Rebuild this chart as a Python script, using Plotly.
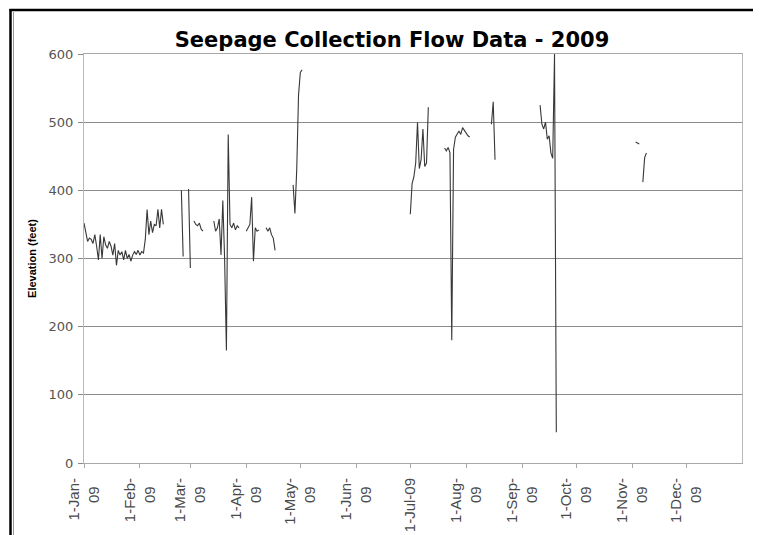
import plotly.graph_objects as go
import pandas as pd

# ---- data (daily elevations, each segment = start date + consecutive daily values) ----
seg_jan_start = "2009-01-01"
seg_jan_values = [352, 335, 325, 330, 328, 322, 335, 318, 298, 335,
                  300, 332, 320, 315, 325, 318, 305, 322, 290, 312,
                  305, 310, 298, 312, 300, 306, 296, 305, 310, 306,
                  312, 305, 310, 308, 328, 372, 335, 355, 338, 350,
                  348, 372, 345, 372, 350]
seg_feb_a_start = "2009-02-24"
seg_feb_a_values = [400, 303]
seg_feb_b_start = "2009-02-28"
seg_feb_b_values = [402, 286]
seg_mar_a_start = "2009-03-03"
seg_mar_a_values = [355, 350, 348, 352, 343, 340]
seg_mar_b_start = "2009-03-14"
seg_mar_b_values = [355, 340, 345, 358, 305, 385, 300, 165, 482, 350, 345, 352, 342, 348, 345]
seg_apr_a_start = "2009-04-01"
seg_apr_a_values = [340, 345, 350, 390, 296, 345, 340, 342]
seg_apr_b_start = "2009-04-12"
seg_apr_b_values = [345, 340, 345, 335, 330, 312]
seg_apr_c_start = "2009-04-27"
seg_apr_c_values = [408, 366, 430, 540, 573, 577]
seg_jul_a_start = "2009-07-01"
seg_jul_a_values = [365, 410, 420, 440, 500, 432, 445, 490, 435, 440, 522]
seg_jul_b_start = "2009-07-20"
seg_jul_b_values = [462, 458, 463, 455, 180, 460, 478, 483, 487, 482, 492, 488, 484, 480, 478]
seg_aug_start = "2009-08-15"
seg_aug_values = [497, 530, 445]
seg_sep_start = "2009-09-11"
seg_sep_values = [525, 497, 490, 500, 475, 480, 455, 447, 600, 45]
seg_nov_a_start = "2009-11-03"
seg_nov_a_values = [471, 469, 468]
seg_nov_b_start = "2009-11-07"
seg_nov_b_values = [412, 448, 455]

NB2 = "\u00a0\u00a0"
month_starts = ["2009-01-01", "2009-02-01", "2009-03-01", "2009-04-01", "2009-05-01", "2009-06-01",
                "2009-07-01", "2009-08-01", "2009-09-01", "2009-10-01", "2009-11-01", "2009-12-01"]
month_labels = ["1-Jan-<br>09" + NB2, "1-Feb-<br>09" + NB2, "1-Mar-<br>09" + NB2,
                "1-Apr-<br>09" + NB2, "1-May-<br>09" + NB2, "1-Jun-<br>09" + NB2,
                "1-Jul-09", "1-Aug-<br>09" + NB2, "1-Sep-<br>09" + NB2,
                "1-Oct-<br>09" + NB2, "1-Nov-<br>09" + NB2, "1-Dec-<br>09" + NB2]
y_ticks = [0, 100, 200, 300, 400, 500, 600]

segments = [
    (seg_jan_start, seg_jan_values), (seg_feb_a_start, seg_feb_a_values),
    (seg_feb_b_start, seg_feb_b_values), (seg_mar_a_start, seg_mar_a_values),
    (seg_mar_b_start, seg_mar_b_values), (seg_apr_a_start, seg_apr_a_values),
    (seg_apr_b_start, seg_apr_b_values), (seg_apr_c_start, seg_apr_c_values),
    (seg_jul_a_start, seg_jul_a_values), (seg_jul_b_start, seg_jul_b_values),
    (seg_aug_start, seg_aug_values), (seg_sep_start, seg_sep_values),
    (seg_nov_a_start, seg_nov_a_values), (seg_nov_b_start, seg_nov_b_values),
]

xs, ys = [], []
for start, vals in segments:
    days = pd.date_range(start, periods=len(vals), freq="D")
    xs += [d.strftime("%Y-%m-%d") for d in days]
    ys += list(vals)
    xs.append(None)
    ys.append(None)

fig = go.Figure()
fig.add_trace(go.Scatter(x=xs, y=ys, mode="lines", connectgaps=False,
                         line=dict(color="#383838", width=1.1), hoverinfo="skip"))

# the page body adds an 8px offset; figure coordinates = page coordinates - 8
OFF = 8
W, H = 761 - OFF, 535 - OFF
L, R, T, B = 84 - OFF, 19, 54 - OFF, 72
pw, ph = W - L - R, H - T - B


def px(xp):
    return (xp - OFF - L) / pw


def py(yp):
    return (H - B - (yp - OFF)) / ph


shapes = [
    # outer frame (black top and left edges of the embedded chart)
    dict(type="line", xref="paper", yref="paper", x0=px(9.5), x1=px(761), y0=py(10), y1=py(10),
         line=dict(color="black", width=2.5), layer="above"),
    dict(type="line", xref="paper", yref="paper", x0=px(10.5), x1=px(10.5), y0=py(9), y1=py(535),
         line=dict(color="black", width=2.5), layer="above"),
    dict(type="line", xref="paper", yref="paper", x0=px(13.5), x1=px(13.5), y0=py(12), y1=py(535),
         line=dict(color="#9a9a9a", width=1), layer="above"),
]

fig.update_layout(
    width=W, height=H,
    margin=dict(l=L, r=R, t=T, b=B, autoexpand=False),
    paper_bgcolor="white", plot_bgcolor="white",
    showlegend=False,
    shapes=shapes,
    title=dict(text="<b>Seepage Collection Flow Data - 2009</b>",
               font=dict(family="DejaVu Sans", size=21, color="black"),
               x=(392 - OFF) / W, xref="container", xanchor="center",
               y=1 - (40 - OFF) / H, yref="container", yanchor="middle"),
    xaxis=dict(type="date", range=["2009-01-01", "2010-01-01"], automargin=False,
               tickmode="array", tickvals=month_starts, ticktext=month_labels,
               tickangle=-90, ticks="outside", ticklen=4, tickcolor="#a8a8a8",
               ticklabelstandoff=4,
               showgrid=False, zeroline=False,
               showline=True, linecolor="#a8a8a8", linewidth=1, mirror=True,
               tickfont=dict(family="Liberation Sans", size=15, color="#4a4a4a")),
    yaxis=dict(range=[0, 600], tickmode="array", tickvals=y_ticks, automargin=False,
               showgrid=True, gridcolor="#8c8c8c", gridwidth=1,
               ticks="outside", ticklen=5, tickcolor="#8c8c8c", ticklabelstandoff=2,
               zeroline=False, showline=True, linecolor="#b8b8b8", linewidth=1, mirror=True,
               tickfont=dict(family="DejaVu Sans", size=13, color="#555555"),
               title=dict(text="<b>Elevation (feet)</b>", standoff=9,
                          font=dict(family="Liberation Sans", size=11, color="black"))),
)

fig.write_html("out.html")
